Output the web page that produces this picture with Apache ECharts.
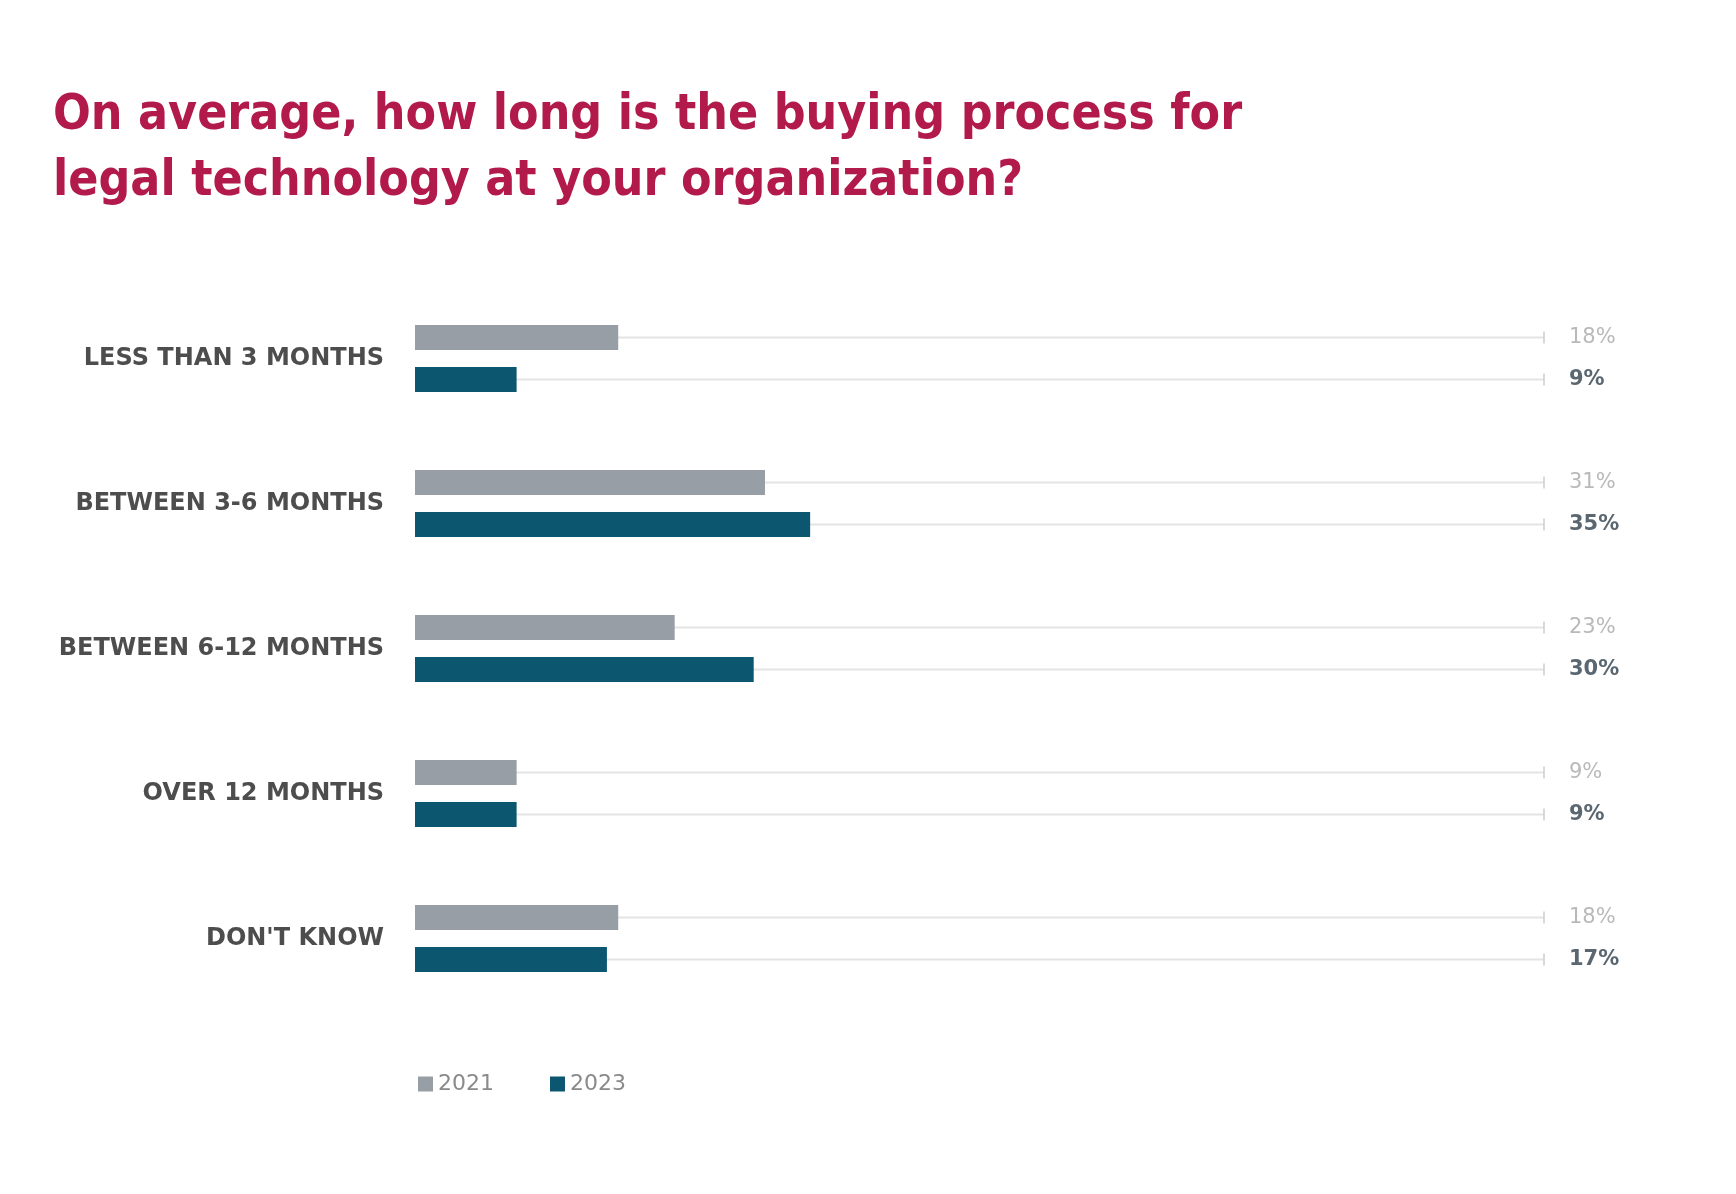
<!DOCTYPE html>
<html>
<head>
<meta charset="utf-8">
<script src="https://cdn.jsdelivr.net/npm/echarts@6/dist/echarts.min.js"></script>
<style>
html,body{margin:0;padding:0;background:#fff;}
#chart{width:1736px;height:1194px;}
</style>
</head>
<body>
<div id="chart"></div>
<script>
var categories = ['LESS THAN 3 MONTHS', 'BETWEEN 3-6 MONTHS', 'BETWEEN 6-12 MONTHS', 'OVER 12 MONTHS', "DON'T KNOW"];
var seriesNames = ['2021', '2023'];
var values2021 = [18, 31, 23, 9, 18];
var values2023 = [9, 35, 30, 9, 17];
var axisMax = 100;
var titleText = 'On average, how long is the buying process for\nlegal technology at your organization?';

var FONT_C = '"DejaVu Sans Condensed", "DejaVu Sans", sans-serif';
var FONT = '"DejaVu Sans", sans-serif';
var GRAY = '#979ea5';
var TEAL = '#0d5670';
var OFFSET = 21;

function trackSeries(name, vals, offset, labelColor, weight) {
  return {
    name: name + ' track',
    type: 'custom',
    z: 1,
    silent: true,
    data: vals.map(function (v, i) { return [i, v]; }),
    encode: { x: 1, y: 0 },
    renderItem: function (params, api) {
      var cat = api.value(0);
      var p0 = api.coord([0, cat]);
      var p1 = api.coord([axisMax, cat]);
      var y = p0[1] + offset;
      return {
        type: 'group',
        children: [
          { type: 'line', shape: { x1: p0[0], y1: y, x2: p1[0], y2: y }, style: { stroke: '#e4e4e4', lineWidth: 2 } },
          { type: 'line', shape: { x1: p1[0], y1: y - 6, x2: p1[0], y2: y + 6 }, style: { stroke: '#cccccc', lineWidth: 1.5 } },
          { type: 'text', x: p1[0] + 25, y: y, style: { text: api.value(1) + '%', fill: labelColor, font: weight + ' 21px ' + FONT, textVerticalAlign: 'middle', textAlign: 'left' } }
        ]
      };
    }
  };
}

var chart = echarts.init(document.getElementById('chart'), null, { renderer: 'canvas' });
chart.setOption({
  backgroundColor: '#ffffff',
  animation: false,
  title: {
    text: titleText,
    left: 48,
    top: 78,
    textStyle: { color: '#b21a4c', fontFamily: FONT_C, fontWeight: 'bold', fontSize: 49.5, lineHeight: 66 }
  },
  legend: {
    data: seriesNames,
    left: 413,
    top: 1068,
    icon: 'rect',
    itemWidth: 15,
    itemHeight: 15,
    itemGap: 56,
    textStyle: { color: '#8a8a8a', fontFamily: FONT, fontSize: 22 }
  },
  grid: { left: 415, right: 192, top: 286, bottom: 183, containLabel: false },
  xAxis: {
    type: 'value', min: 0, max: axisMax, show: false
  },
  yAxis: {
    type: 'category',
    data: categories,
    inverse: true,
    axisLine: { show: false },
    axisTick: { show: false },
    splitLine: { show: false },
    axisLabel: { color: '#4d4d4d', fontFamily: FONT, fontWeight: 'bold', fontSize: 24, margin: 31 }
  },
  series: [
    trackSeries('2021', values2021, -OFFSET, '#b9b9b9', 'normal'),
    trackSeries('2023', values2023, OFFSET, '#5b6770', 'bold'),
    { name: '2021', type: 'bar', z: 3, data: values2021, barWidth: 25, barGap: '68%', itemStyle: { color: GRAY } },
    { name: '2023', type: 'bar', z: 3, data: values2023, barWidth: 25, barGap: '68%', itemStyle: { color: TEAL } }
  ]
});
</script>
</body>
</html>
